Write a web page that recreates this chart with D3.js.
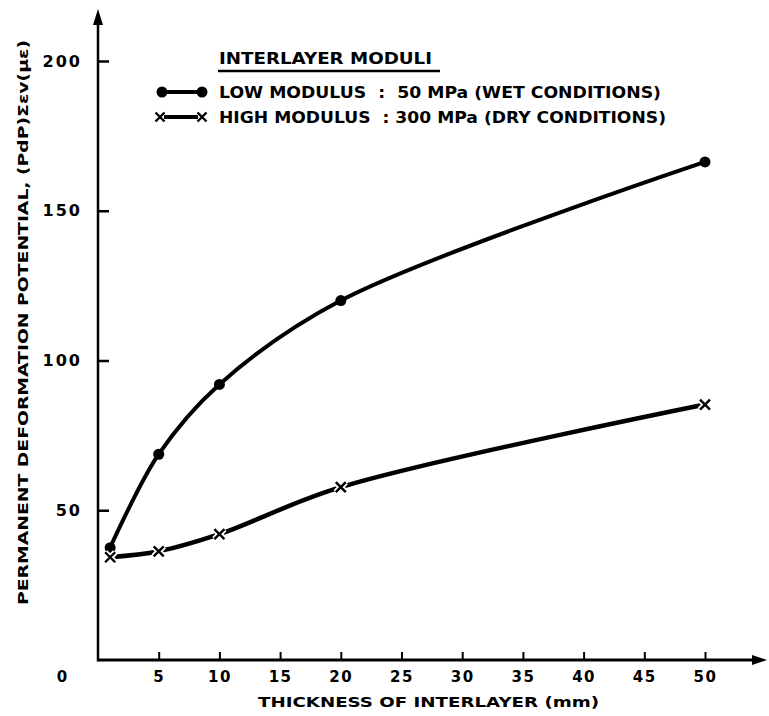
<!DOCTYPE html>
<html>
<head>
    <script src="https://d3js.org/d3.v7.min.js"></script>
    <style>
        body { margin: 0; background: #fff; }
        text { font-family: "DejaVu Sans", sans-serif; font-weight: bold; fill: #000; }
    </style>
</head>
<body>
    <div id="chart"></div>

    <script>
        // data
        const thickness = [1, 5, 10, 20, 50];
        const lowModulus = [37.5, 68.7, 92, 120, 166.3];   // 50 MPa, wet
        const highModulus = [34.3, 36.3, 42, 57.7, 85.3];  // 300 MPa, dry
        const xTicks = [5, 10, 15, 20, 25, 30, 35, 40, 45, 50];
        const yTicks = [50, 100, 150, 200];

        const width = 769, height = 716;

        const svg = d3.select("#chart")
            .append("svg")
            .attr("width", width)
            .attr("height", height);

        const x = d3.scaleLinear().domain([0, 50]).range([98, 705]);
        const y = d3.scaleLinear().domain([0, 200]).range([660, 61]);

        ////////////////////////////////////////////////////////////////////////
        // axes

        const xAxis = svg.append("g")
            .attr("transform", `translate(0,${y(0)})`)
            .call(d3.axisBottom(x).tickValues(xTicks).tickSizeInner(-8).tickSizeOuter(0).tickPadding(11));
        xAxis.select(".domain").remove();
        xAxis.selectAll("line").attr("stroke", "#000").attr("stroke-width", 2);
        xAxis.selectAll("text").attr("font-size", 15).attr("letter-spacing", 1.5).attr("font-family", null);

        const yAxis = svg.append("g")
            .attr("transform", `translate(${x(0)},0)`)
            .call(d3.axisLeft(y).tickValues(yTicks).tickSizeInner(-11).tickSizeOuter(0).tickPadding(16));
        yAxis.select(".domain").remove();
        yAxis.selectAll("line").attr("stroke", "#000").attr("stroke-width", 2.5);
        yAxis.selectAll("text").attr("font-size", 16).attr("letter-spacing", 2).attr("font-family", null);

        // origin label
        svg.append("text")
            .attr("x", x(0) - 36)
            .attr("y", y(0) + 11)
            .attr("dy", "0.71em")
            .attr("text-anchor", "middle")
            .attr("font-size", 15)
            .text("0");

        // axis lines with arrow heads
        svg.append("line")
            .attr("x1", x(0)).attr("y1", y(0))
            .attr("x2", 756).attr("y2", y(0))
            .attr("stroke", "#000").attr("stroke-width", 3);
        svg.append("path")
            .attr("d", `M767,${y(0)} L752,${y(0) - 5} L752,${y(0) + 5} Z`)
            .attr("fill", "#000");

        svg.append("line")
            .attr("x1", x(0)).attr("y1", y(0) + 1.5)
            .attr("x2", x(0)).attr("y2", 22)
            .attr("stroke", "#000").attr("stroke-width", 2.5);
        svg.append("path")
            .attr("d", `M${x(0)},9 L${x(0) - 5},25 L${x(0) + 5},25 Z`)
            .attr("fill", "#000");

        // axis titles
        svg.append("text")
            .attr("x", 258)
            .attr("y", 707)
            .attr("font-size", 14)
            .attr("textLength", 341)
            .attr("lengthAdjust", "spacingAndGlyphs")
            .text("THICKNESS OF INTERLAYER (mm)");

        svg.append("text")
            .attr("transform", "translate(28,605) rotate(-90)")
            .attr("font-size", 14)
            .attr("textLength", 565)
            .attr("lengthAdjust", "spacingAndGlyphs")
            .text("PERMANENT DEFORMATION POTENTIAL, (PdP)Σεv(με)");

        ////////////////////////////////////////////////////////////////////////
        // curves

        const line = d3.line()
            .x(d => x(d[0]))
            .y(d => y(d[1]))
            .curve(d3.curveCatmullRom.alpha(0.5));

        const lowPts = thickness.map((t, i) => [t, lowModulus[i]]);
        const highPts = thickness.map((t, i) => [t, highModulus[i]]);

        svg.append("path")
            .attr("d", line(lowPts))
            .attr("fill", "none")
            .attr("stroke", "#000")
            .attr("stroke-width", 4);

        svg.append("path")
            .attr("d", line(highPts))
            .attr("fill", "none")
            .attr("stroke", "#000")
            .attr("stroke-width", 4.5);

        svg.selectAll(".dot")
            .data(lowPts)
            .enter()
            .append("circle")
            .attr("class", "dot")
            .attr("cx", d => x(d[0]))
            .attr("cy", d => y(d[1]))
            .attr("r", 5.5)
            .attr("fill", "#000");

        function crossPath(cx, cy, s) {
            return `M${cx - s},${cy - s} L${cx + s},${cy + s} M${cx - s},${cy + s} L${cx + s},${cy - s}`;
        }

        // white halo so the line breaks round each cross
        svg.selectAll(".halo")
            .data(highPts)
            .enter()
            .append("path")
            .attr("class", "halo")
            .attr("d", d => crossPath(x(d[0]), y(d[1]), 5))
            .attr("stroke", "#fff")
            .attr("stroke-width", 6);

        svg.selectAll(".cross")
            .data(highPts)
            .enter()
            .append("path")
            .attr("class", "cross")
            .attr("d", d => crossPath(x(d[0]), y(d[1]), 5))
            .attr("stroke", "#000")
            .attr("stroke-width", 2.4);

        ////////////////////////////////////////////////////////////////////////
        // legend

        svg.append("text")
            .attr("x", 219).attr("y", 64)
            .attr("font-size", 15)
            .attr("textLength", 213)
            .attr("lengthAdjust", "spacingAndGlyphs")
            .text("INTERLAYER MODULI");
        svg.append("line")
            .attr("x1", 218).attr("y1", 71)
            .attr("x2", 440).attr("y2", 71)
            .attr("stroke", "#000").attr("stroke-width", 2.5);

        svg.append("line")
            .attr("x1", 162).attr("y1", 92).attr("x2", 202).attr("y2", 92)
            .attr("stroke", "#000").attr("stroke-width", 4);
        svg.selectAll(".legdot")
            .data([162, 202])
            .enter()
            .append("circle")
            .attr("cx", d => d).attr("cy", 92).attr("r", 5.5)
            .attr("fill", "#000");
        svg.append("text")
            .attr("x", 219).attr("y", 98)
            .attr("font-size", 15)
            .attr("textLength", 442)
            .attr("lengthAdjust", "spacingAndGlyphs")
            .attr("xml:space", "preserve")
            .text("LOW MODULUS  :  50 MPa (WET CONDITIONS)");

        svg.append("line")
            .attr("x1", 164).attr("y1", 117).attr("x2", 198).attr("y2", 117)
            .attr("stroke", "#000").attr("stroke-width", 4);
        svg.selectAll(".legx")
            .data([160, 202])
            .enter()
            .append("path")
            .attr("d", d => crossPath(d, 117, 4.5))
            .attr("stroke", "#000").attr("stroke-width", 2.4);
        svg.append("text")
            .attr("x", 219).attr("y", 123)
            .attr("font-size", 15)
            .attr("textLength", 447)
            .attr("lengthAdjust", "spacingAndGlyphs")
            .attr("xml:space", "preserve")
            .text("HIGH MODULUS  : 300 MPa (DRY CONDITIONS)");
    </script>
</body>
</html>
